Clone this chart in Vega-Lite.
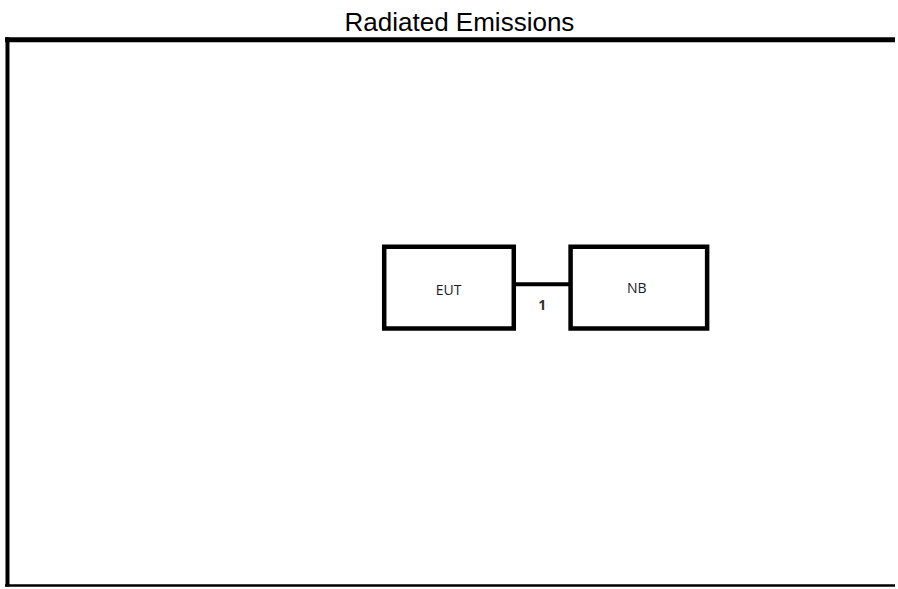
{
  "$schema": "https://vega.github.io/schema/vega-lite/v6.json",
  "width": 898,
  "height": 589,
  "padding": 0,
  "autosize": {"type": "fit", "contains": "padding"},
  "background": "white",
  "config": {"view": {"stroke": null}},
  "datasets": {
    "lines": [
      {"part": "top", "x": 5, "x2": 898, "y": 40, "y2": 40},
      {"part": "left", "x": 7.5, "x2": 7.5, "y": 37.5, "y2": 588.5},
      {"part": "bottom", "x": 5, "x2": 898, "y": 587.5, "y2": 587.5},
      {"part": "cable", "x": 517, "x2": 571, "y": 285.3, "y2": 285.3}
    ],
    "boxes": [
      {"name": "EUT", "x": 385.5, "x2": 515.5, "y": 247.5, "y2": 329.5},
      {"name": "NB", "x": 572.5, "x2": 709.5, "y": 247.5, "y2": 329.5}
    ],
    "labels": [
      {"label": "EUT", "x": 450, "y": 291.5},
      {"label": "NB", "x": 639, "y": 289.5}
    ],
    "cable_labels": [
      {"label": "1", "x": 544, "y": 307.5}
    ],
    "title": [
      {"label": "Radiated Emissions", "x": 461, "y": 31.5}
    ]
  },
  "encoding": {
    "x": {"field": "x", "type": "quantitative", "scale": {"domain": [0, 898], "nice": false, "zero": false}, "axis": null},
    "y": {"field": "y", "type": "quantitative", "scale": {"domain": [0, 589], "nice": false, "zero": false, "reverse": true}, "axis": null}
  },
  "layer": [
    {
      "data": {"name": "lines"},
      "transform": [{"filter": "datum.part == 'top'"}],
      "mark": {"type": "rule", "color": "black", "strokeWidth": 5},
      "encoding": {"x2": {"field": "x2"}, "y2": {"field": "y2"}}
    },
    {
      "data": {"name": "lines"},
      "transform": [{"filter": "datum.part == 'left' || datum.part == 'cable'"}],
      "mark": {"type": "rule", "color": "black", "strokeWidth": 4},
      "encoding": {"x2": {"field": "x2"}, "y2": {"field": "y2"}}
    },
    {
      "data": {"name": "lines"},
      "transform": [{"filter": "datum.part == 'bottom'"}],
      "mark": {"type": "rule", "color": "black", "strokeWidth": 2.5},
      "encoding": {"x2": {"field": "x2"}, "y2": {"field": "y2"}}
    },
    {
      "data": {"name": "boxes"},
      "mark": {"type": "rect", "fill": "white", "stroke": "black", "strokeWidth": 4.5},
      "encoding": {"x2": {"field": "x2"}, "y2": {"field": "y2"}}
    },
    {
      "data": {"name": "labels"},
      "mark": {"type": "text", "font": "Open Sans", "fontSize": 14, "color": "#1a1a2e", "align": "center", "baseline": "middle"},
      "encoding": {"text": {"field": "label"}}
    },
    {
      "data": {"name": "cable_labels"},
      "mark": {"type": "text", "font": "Open Sans", "fontSize": 14, "fontWeight": "bold", "color": "#333333", "align": "center", "baseline": "middle"},
      "encoding": {"text": {"field": "label"}}
    },
    {
      "data": {"name": "title"},
      "mark": {"type": "text", "font": "Liberation Sans", "fontSize": 26, "color": "black", "align": "center", "baseline": "alphabetic"},
      "encoding": {"text": {"field": "label"}}
    }
  ]
}
